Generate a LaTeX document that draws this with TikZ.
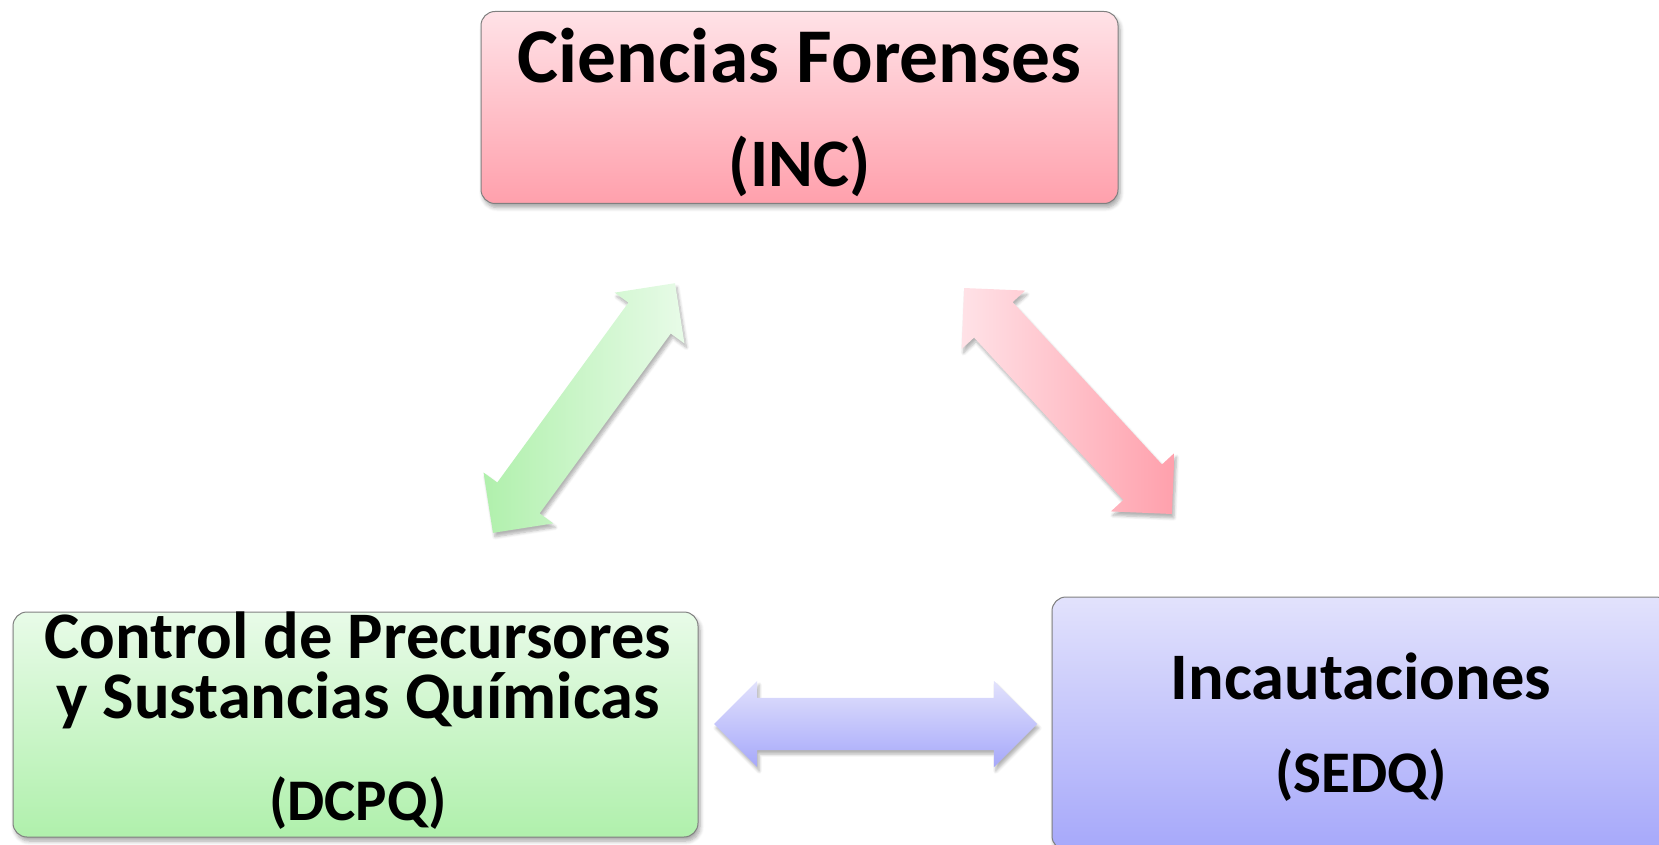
\documentclass[tikz,border=0pt]{standalone}
\usepackage{fontspec}
\setmainfont{Carlito}
\usepackage{tikz}
\usetikzlibrary{shapes.arrows,shadows.blur}

\definecolor{rosaClaro}{RGB}{255,226,231}
\definecolor{rosaOscuro}{RGB}{255,160,172}
\definecolor{verdeClaro}{RGB}{232,251,232}
\definecolor{verdeOscuro}{RGB}{176,240,172}
\definecolor{azulClaro}{RGB}{226,226,252}
\definecolor{azulOscuro}{RGB}{166,168,250}

\tikzset{
  caja/.style={draw=black!50, line width=1pt, rounded corners=14pt,
    blur shadow={shadow xshift=2pt, shadow yshift=-4pt, shadow blur steps=6,
      shadow blur radius=4pt, shadow opacity=35}},
  flecha/.style={double arrow, inner sep=26pt, double arrow head extend=17pt,
    double arrow tip angle=90,
    blur shadow={shadow xshift=2pt, shadow yshift=-4pt, shadow blur steps=6,
      shadow blur radius=3pt, shadow opacity=30}},
  titulo/.style={anchor=base, font=\bfseries\fontsize{66.5}{70}\selectfont},
  sigla/.style={anchor=base, font=\bfseries\fontsize{59}{64}\selectfont}
}

\begin{document}
\begin{tikzpicture}[x=1pt, y=-1pt]
  \useasboundingbox (0,0) rectangle (1659,845);

  % cajas
  \node[caja, top color=rosaClaro, bottom color=rosaOscuro,
    minimum width=637pt, minimum height=192pt] (INC) at (799.5,107.5) {};
  \node[caja, top color=verdeClaro, bottom color=verdeOscuro,
    minimum width=685pt, minimum height=225pt] (DCPQ) at (355.5,724.5) {};
  \node[caja, top color=azulClaro, bottom color=azulOscuro,
    minimum width=618pt, minimum height=253pt] (SEDQ) at (1361,723.5) {};

  % textos
  \node[titulo, font=\bfseries\fontsize{77.5}{80}\selectfont] (INCa) at (799.5,83) {Ciencias Forenses};
  \node[sigla, font=\bfseries\fontsize{68}{72}\selectfont] (INCb) at (799.5,187) {(INC)};

  \node[titulo] (DCPQa) at (358,658) {Control de Precursores};
  \node[titulo] (DCPQb) at (358,718) {y Sustancias Químicas};
  \node[sigla] (DCPQc) at (358,820) {(DCPQ)};

  \node[titulo] (SEDQa) at (1361,699) {Incautaciones};
  \node[sigla] (SEDQb) at (1361,792) {(SEDQ)};

  % flechas
  \node[flecha, minimum height=309pt, rotate=53.9,
    left color=verdeOscuro, right color=verdeClaro] (fVerde) at (584,408) {};
  \node[flecha, minimum height=307pt, rotate=-47.4,
    left color=rosaClaro, right color=rosaOscuro] (fRosa) at (1068,401) {};
  \node[flecha, minimum height=323pt,
    top color=azulClaro, bottom color=azulOscuro] (fAzul) at (875.5,724) {};
\end{tikzpicture}
\end{document}
